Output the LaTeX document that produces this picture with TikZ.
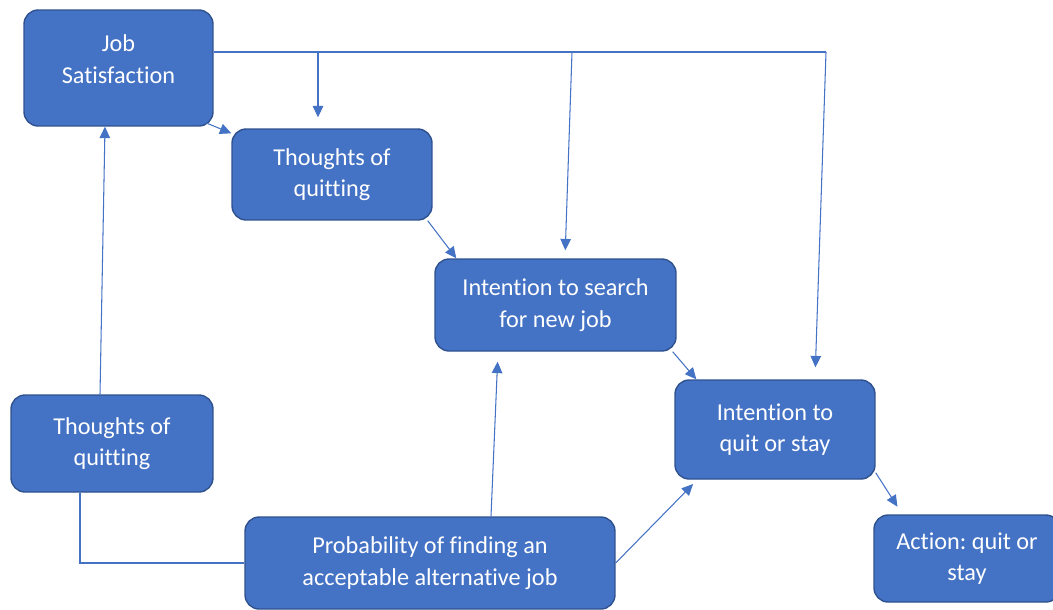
\documentclass[tikz,border=0pt]{standalone}
\usepackage{fontspec}
\setmainfont{Carlito}[Ligatures=NoCommon]
\usetikzlibrary{arrows.meta,calc}
\definecolor{boxblue}{HTML}{4472C4}
\definecolor{boxedge}{HTML}{2F528F}
\definecolor{linkblue}{HTML}{4472C4}
\frenchspacing

\begin{document}
\begin{tikzpicture}[x=0.02cm, y=-0.02cm,
            box/.style={rectangle, rounded corners=8pt, draw=boxedge, line width=0.8pt, fill=boxblue, text=white, align=center, inner sep=0pt,
            font=\fontsize{13.8pt}{18pt}\selectfont},
            link/.style={draw=linkblue, line width=0.6pt},
            arr/.style={link, -{Triangle[length=6.5pt,width=6pt]}}]
        \useasboundingbox (0,0) rectangle (1053,609);
        \node[box, minimum width=3.78cm, minimum height=2.32cm, text depth=0.36cm] (js) at (118.5,68) {Job\\Satisfaction};
        \node[box, minimum width=4cm, minimum height=1.82cm] (tq1) at (332,174.5) {Thoughts of\\quitting};
        \node[box, minimum width=4.82cm, minimum height=1.84cm] (is) at (555.5,305) {Intention to search\\for new job};
        \node[box, minimum width=4cm, minimum height=1.98cm] (iq) at (775,429.5) {Intention to\\quit or stay};
        \node[box, minimum width=3.72cm, minimum height=1.74cm] (act) at (967,558.5) {Action: quit or\\stay};
        \node[box, minimum width=4.04cm, minimum height=1.94cm] (tq2) at (112,443.5) {Thoughts of\\quitting};
        \node[box, minimum width=7.4cm, minimum height=1.84cm] (prob) at (430,563) {Probability of finding an\\acceptable alternative job};
        \coordinate (j1) at (318,52);
        \coordinate (j2) at (572,52);
        \coordinate (jR) at (826,52);
        \draw[link] (js.east |- jR) -- (jR);
        \draw[arr, shorten >=0.22cm] (j1) -- (j1 |- tq1.north);
        \draw[arr, shorten >=0.16cm] (j2) -- ($(is.north)+(9.5,0)$);
        \draw[arr, shorten >=0.24cm] (jR) -- ($(iq.north)+(40,0)$);
        \draw[arr] ([shift={(-0.16cm,0.08cm)}]js.south east) -- ([yshift=-0.1cm]tq1.north west);
        \draw[arr] ([xshift=-0.1cm]tq1.south east) -- ([xshift=0.44cm]is.north west);
        \draw[arr] ([xshift=-0.08cm]is.south east) -- ([xshift=0.44cm]iq.north west);
        \draw[arr, shorten >=0.18cm] ([yshift=0.14cm]iq.south east) -- ([xshift=0.58cm]act.north west);
        \draw[arr, shorten >=0.12cm] (prob.east) -- ([xshift=0.46cm]iq.south west);
        \draw[arr, shorten >=0.2cm] ([xshift=1.22cm]prob.north) -- ([xshift=-1.15cm]is.south);
        \draw[arr] ([xshift=-0.24cm]tq2.north) -- ([xshift=-0.27cm]js.south);
        \draw[link] ([xshift=-0.64cm]tq2.south) |- (prob.west);
    \end{tikzpicture}
\end{document}
